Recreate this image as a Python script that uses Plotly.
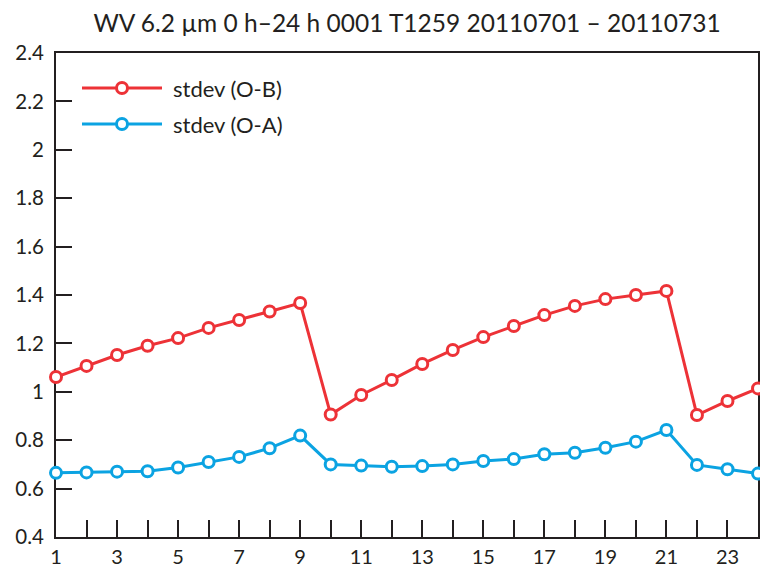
import plotly.graph_objects as go

# Forecast step (x axis) and the two statistics per step
days = list(range(1, 25))
stdev_ob = [1.061, 1.107, 1.152, 1.190, 1.222, 1.264, 1.297, 1.332, 1.367, 0.906,
            0.987, 1.049, 1.115, 1.173, 1.226, 1.272, 1.317, 1.355, 1.383, 1.400,
            1.417, 0.904, 0.962, 1.014]
stdev_oa = [0.665, 0.667, 0.670, 0.672, 0.687, 0.710, 0.731, 0.767, 0.819, 0.700,
            0.695, 0.690, 0.693, 0.700, 0.714, 0.722, 0.742, 0.748, 0.769, 0.794,
            0.842, 0.698, 0.680, 0.662]

series_names = ["stdev (O-B)", "stdev (O-A)"]
series_colors = ["#ED3237", "#0BA3E2"]

x_tickvals = days
x_ticktext = [str(d) if d % 2 == 1 else "" for d in days]
y_tickvals = [0.4, 0.6, 0.8, 1.0, 1.2, 1.4, 1.6, 1.8, 2.0, 2.2, 2.4]
y_ticktext = ["0.4", "0.6", "0.8", "1", "1.2", "1.4", "1.6", "1.8", "2", "2.2", "2.4"]

title_text = "WV 6.2 µm 0 h–24 h 0001 T1259 20110701 – 20110731"

FONT = "Lato"
INK = "#231F20"

W, H = 760, 569
ML, MR, MT, MB = 56, 2, 53, 32

fig = go.Figure()
for vals, name, col in zip([stdev_ob, stdev_oa], series_names, series_colors):
    fig.add_trace(go.Scatter(
        x=days, y=vals, mode="lines+markers", name=name,
        line=dict(color=col, width=3),
        marker=dict(symbol="circle", size=11, color="white",
                    line=dict(color=col, width=3)),
        cliponaxis=False, showlegend=False,
    ))

# hand-drawn legend in the upper left of the plot area
pw, ph = W - ML - MR, H - MT - MB


def px_x(p):
    return (p - ML) / pw


def px_y(p):
    return (H - MB - p) / ph


shapes = []
annotations = []
for i, (name, col) in enumerate(zip(series_names, series_colors)):
    yy = 88 + 36 * i
    shapes.append(dict(type="line", xref="paper", yref="paper",
                       x0=px_x(82), x1=px_x(162), y0=px_y(yy), y1=px_y(yy),
                       line=dict(color=col, width=3)))
    shapes.append(dict(type="circle", xref="paper", yref="paper",
                       xsizemode="pixel", ysizemode="pixel",
                       xanchor=px_x(122), yanchor=px_y(yy),
                       x0=-5.5, x1=5.5, y0=-5.5, y1=5.5,
                       fillcolor="white", line=dict(color=col, width=3)))
    annotations.append(dict(xref="paper", yref="paper", x=px_x(171), y=px_y(yy),
                            xanchor="left", yanchor="middle", showarrow=False,
                            text=name, font=dict(family=FONT, size=22, color=INK)))

fig.update_layout(
    width=W, height=H,
    margin=dict(l=ML, r=MR, t=MT, b=MB, autoexpand=False),
    paper_bgcolor="white", plot_bgcolor="white",
    title=dict(text=title_text, x=(ML + pw / 2) / W, xanchor="center",
               y=1 - 23 / H, yanchor="middle",
               font=dict(family=FONT, size=24.5, color=INK)),
    shapes=shapes, annotations=annotations,
    font=dict(family=FONT, color=INK),
)
fig.update_xaxes(
    range=[1, 24], tickvals=x_tickvals, ticktext=x_ticktext,
    ticks="inside", ticklen=17, tickwidth=2, tickcolor=INK,
    showline=True, linewidth=2, linecolor=INK, mirror=True,
    showgrid=False, zeroline=False, layer="below traces",
    ticklabelstandoff=1, automargin=False,
    tickfont=dict(family=FONT, size=20, color=INK),
)
fig.update_yaxes(
    range=[0.4, 2.4], tickvals=y_tickvals, ticktext=y_ticktext,
    ticks="inside", ticklen=16, tickwidth=2, tickcolor=INK,
    showline=True, linewidth=2, linecolor=INK, mirror=True,
    showgrid=False, zeroline=False, layer="below traces",
    ticklabelstandoff=6, automargin=False,
    tickfont=dict(family=FONT, size=20.5, color=INK),
)

fig.write_html("out.html")
